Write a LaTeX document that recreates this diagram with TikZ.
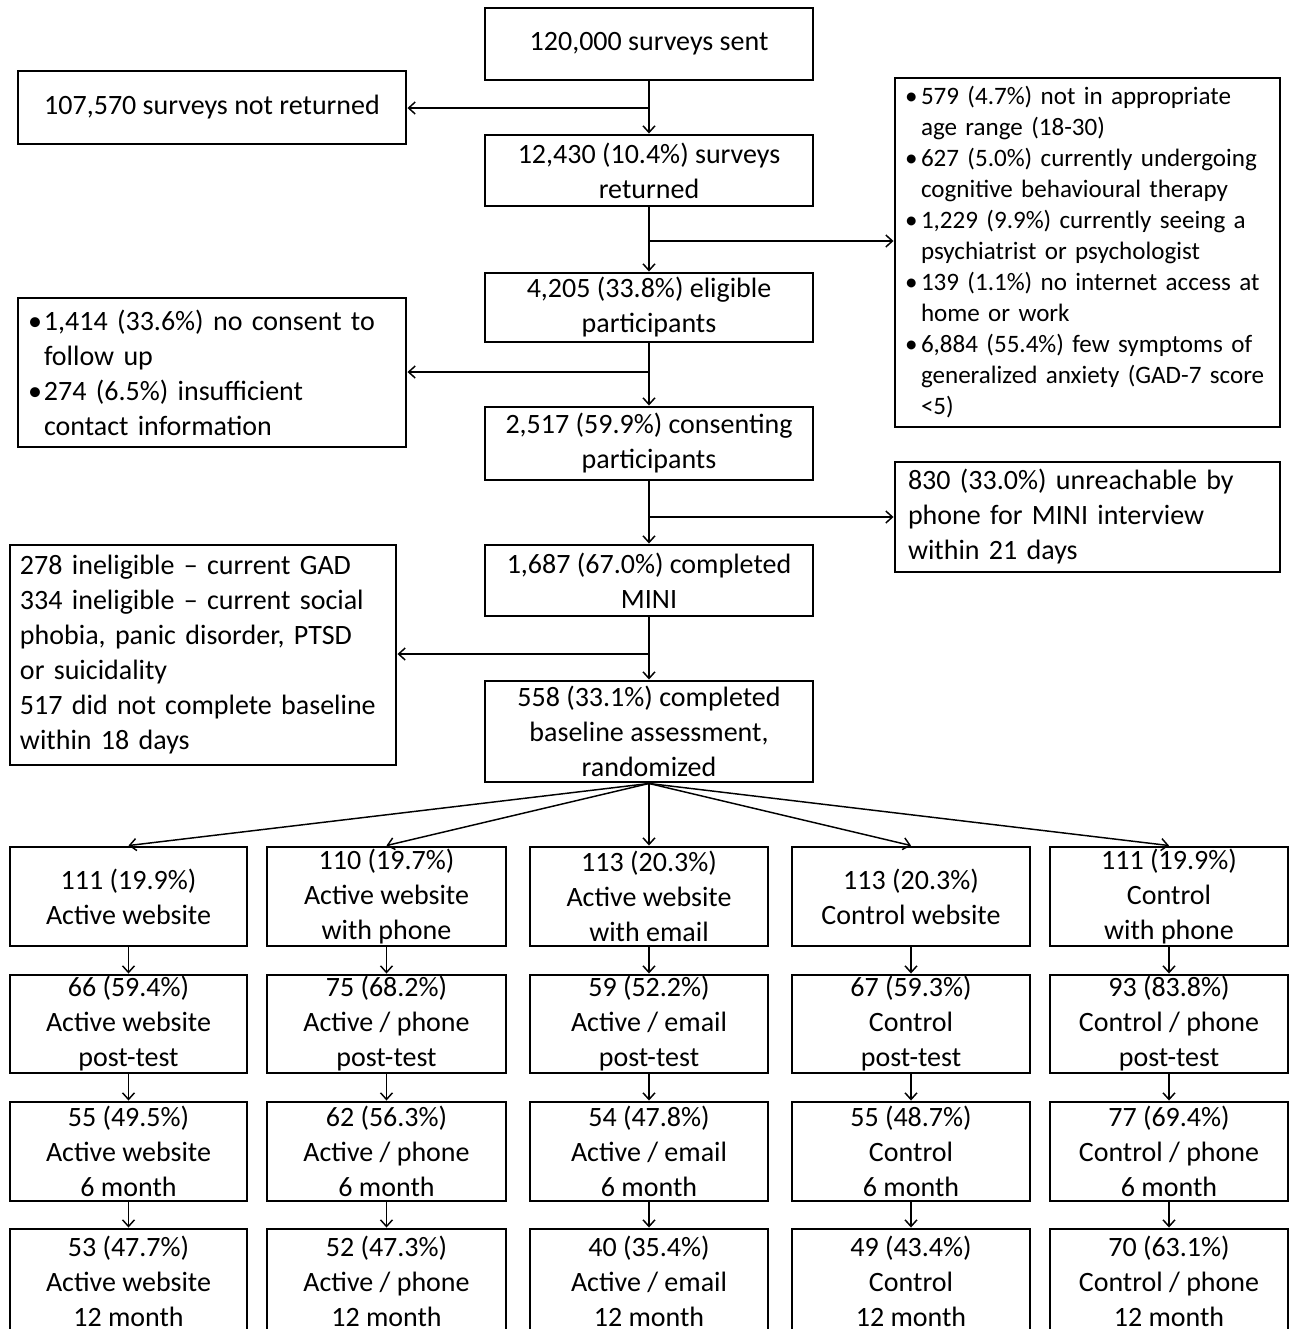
\documentclass[tikz,border=0pt]{standalone}
\usepackage{fontspec}
\setmainfont{Carlito}
\usetikzlibrary{arrows.meta}
\newcommand\itm{\makebox[12pt][l]{•}}
\newcommand\cnt{\hspace*{12pt}}
\tikzset{
  box/.style={draw, line width=2.2pt, align=center, inner sep=0pt,
    font=\fontsize{21}{26.25}\selectfont},
  lbox/.style={draw, line width=2.2pt, align=left, inner ysep=0pt, inner xsep=7.5pt,
    font=\fontsize{21}{26.25}\selectfont},
  sbox/.style={lbox, font=\fontsize{18.8}{23.25}\selectfont},
  arr/.style={line width=1.1pt, -{Straight Barb[length=5pt,width=9pt,line width=1.1pt]}},
}
\begin{document}
\begin{tikzpicture}[x=0.75pt,y=-0.75pt]
\useasboundingbox (0,0) rectangle (1290,1329);
% main column
\node[box, minimum width=328*0.75pt, minimum height=72*0.75pt] (sent) at (649,44) {120,000 surveys sent};
\node[box, minimum width=388*0.75pt, minimum height=73*0.75pt] (notret) at (212,107.5) {107,570 surveys not returned};
\node[box, minimum width=328*0.75pt, minimum height=71*0.75pt] (ret) at (649,170.5) {12,430 (10.4\%) surveys\\returned};
\node[sbox, text width=365*0.75pt, minimum height=349*0.75pt] (excl) at (1087.5,252.5) {%
\itm 579 (4.7\%) not in appropriate\\
\cnt age range (18-30)\\
\itm 627 (5.0\%) currently undergoing\\
\cnt cognitive behavioural therapy\\
\itm 1,229 (9.9\%) currently seeing a\\
\cnt psychiatrist or psychologist\\
\itm 139 (1.1\%) no internet access at\\
\cnt home or work\\
\itm 6,884 (55.4\%) few symptoms of\\
\cnt generalized anxiety (GAD-7 score\\
\cnt <5)};
\node[box, minimum width=328*0.75pt, minimum height=69*0.75pt] (elig) at (649,307.5) {4,205 (33.8\%) eligible\\participants};
\node[lbox, text width=368*0.75pt, minimum height=149*0.75pt] (nocons) at (212,372.5) {%
\itm 1,414 (33.6\%) no consent to\\
\cnt follow up\\
\itm 274 (6.5\%) insufficient\\
\cnt contact information};
\node[box, minimum width=328*0.75pt, minimum height=73*0.75pt] (cons) at (649,443.5) {2,517 (59.9\%) consenting\\participants};
\node[lbox, inner xsep=9.75pt, text width=359*0.75pt, minimum height=110*0.75pt] (unreach) at (1087.5,517) {%
830 (33.0\%) unreachable by\\
phone for MINI interview\\
within 21 days};
\node[box, minimum width=328*0.75pt, minimum height=71*0.75pt] (mini) at (649,580.5) {1,687 (67.0\%) completed\\MINI};
\node[lbox, text width=366*0.75pt, minimum height=220*0.75pt] (inelig) at (203,655) {%
278 ineligible -- current GAD\\
334 ineligible -- current social\\
phobia, panic disorder, PTSD\\
or suicidality\\
517 did not complete baseline\\
within 18 days};
\node[box, minimum width=328*0.75pt, minimum height=101*0.75pt] (base) at (649,731.5) {558 (33.1\%) completed\\baseline assessment,\\randomized};
% arms
\node[box, minimum width=237*0.75pt, minimum height=99*0.75pt] (a1) at (128.5,896.5) {111 (19.9\%)\\Active website};
\node[box, minimum width=239*0.75pt, minimum height=99*0.75pt] (a2) at (386.5,896.5) {110 (19.7\%)\\Active website\\with phone};
\node[box, minimum width=238*0.75pt, minimum height=99*0.75pt] (a3) at (649,896.5) {113 (20.3\%)\\Active website\\with email};
\node[box, minimum width=238*0.75pt, minimum height=99*0.75pt] (a4) at (911,896.5) {113 (20.3\%)\\Control website};
\node[box, minimum width=238*0.75pt, minimum height=99*0.75pt] (a5) at (1169,896.5) {111 (19.9\%)\\Control\\with phone};

\node[box, minimum width=237*0.75pt, minimum height=98*0.75pt] (b1) at (128.5,1024) {66 (59.4\%)\\Active website\\post-test};
\node[box, minimum width=239*0.75pt, minimum height=98*0.75pt] (b2) at (386.5,1024) {75 (68.2\%)\\Active / phone\\post-test};
\node[box, minimum width=238*0.75pt, minimum height=98*0.75pt] (b3) at (649,1024) {59 (52.2\%)\\Active / email\\post-test};
\node[box, minimum width=238*0.75pt, minimum height=98*0.75pt] (b4) at (911,1024) {67 (59.3\%)\\Control\\post-test};
\node[box, minimum width=238*0.75pt, minimum height=98*0.75pt] (b5) at (1169,1024) {93 (83.8\%)\\Control / phone\\post-test};

\node[box, minimum width=237*0.75pt, minimum height=99*0.75pt] (d1) at (128.5,1151.5) {55 (49.5\%)\\Active website\\6 month};
\node[box, minimum width=239*0.75pt, minimum height=99*0.75pt] (d2) at (386.5,1151.5) {62 (56.3\%)\\Active / phone\\6 month};
\node[box, minimum width=238*0.75pt, minimum height=99*0.75pt] (d3) at (649,1151.5) {54 (47.8\%)\\Active / email\\6 month};
\node[box, minimum width=238*0.75pt, minimum height=99*0.75pt] (d4) at (911,1151.5) {55 (48.7\%)\\Control\\6 month};
\node[box, minimum width=238*0.75pt, minimum height=99*0.75pt] (d5) at (1169,1151.5) {77 (69.4\%)\\Control / phone\\6 month};

\node[box, minimum width=237*0.75pt, minimum height=105*0.75pt] (e1) at (128.5,1281.5) {53 (47.7\%)\\Active website\\12 month};
\node[box, minimum width=239*0.75pt, minimum height=105*0.75pt] (e2) at (386.5,1281.5) {52 (47.3\%)\\Active / phone\\12 month};
\node[box, minimum width=238*0.75pt, minimum height=105*0.75pt] (e3) at (649,1281.5) {40 (35.4\%)\\Active / email\\12 month};
\node[box, minimum width=238*0.75pt, minimum height=105*0.75pt] (e4) at (911,1281.5) {49 (43.4\%)\\Control\\12 month};
\node[box, minimum width=238*0.75pt, minimum height=105*0.75pt] (e5) at (1169,1281.5) {70 (63.1\%)\\Control / phone\\12 month};

% connectors
\coordinate (j1) at (649,108);
\coordinate (j2) at (649,241);
\coordinate (j3) at (649,372);
\coordinate (j4) at (649,517);
\coordinate (j5) at (649,654);
\draw[arr] (sent.south) -- (ret.north);
\draw[arr] (j1) -- (j1 -| notret.east);
\draw[arr] (ret.south) -- (elig.north);
\draw[arr] (j2) -- (j2 -| excl.west);
\draw[arr] (elig.south) -- (cons.north);
\draw[arr] (j3) -- (j3 -| nocons.east);
\draw[arr] (cons.south) -- (mini.north);
\draw[arr] (j4) -- (j4 -| unreach.west);
\draw[arr] (mini.south) -- (base.north);
\draw[arr] (j5) -- (j5 -| inelig.east);
\foreach \n in {1,...,5}{
  \draw[arr] (base.south) -- (a\n.north);
  \draw[arr] (a\n.south) -- (b\n.north);
  \draw[arr] (b\n.south) -- (d\n.north);
  \draw[arr] (d\n.south) -- (e\n.north);
}
\end{tikzpicture}
\end{document}
